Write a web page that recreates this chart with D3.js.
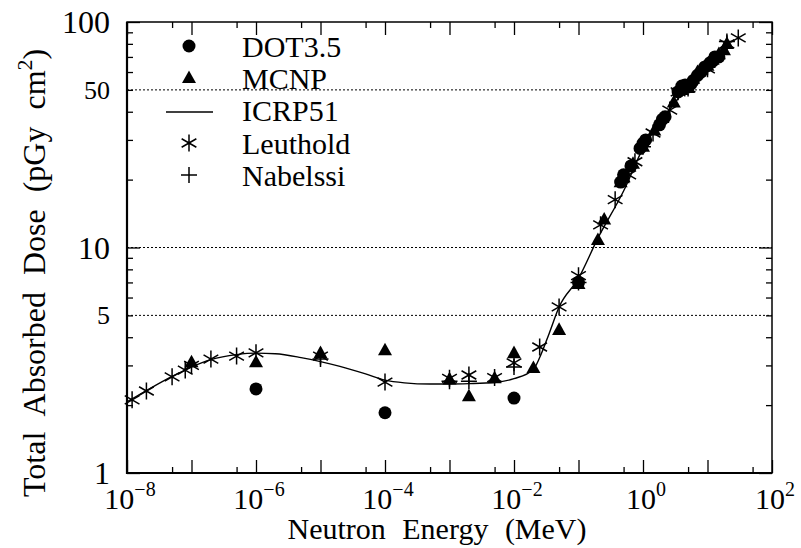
<!DOCTYPE html>
<html><head><meta charset="utf-8">
<script src="https://cdn.jsdelivr.net/npm/d3@7"></script>
</head><body style="margin:0"><svg id="c" width="801" height="548" font-family="Liberation Serif, monospace"></svg>
<script>
// ---------- data ----------
const xMajorTicks = [1e-8,1e-7,1e-6,1e-5,1e-4,1e-3,1e-2,1e-1,1,10,100];
const xMinorTicks = [5e-8,5e-7,5e-6,5e-5,5e-4,5e-3,5e-2,5e-1,5,50];
const xLabelValues = [1e-8,1e-6,1e-4,1e-2,1,100];
const xLabelExps = ["\u22128","\u22126","\u22124","\u22122","0","2"];
const yMajorTicks = [1,10,100];
const yMinorTicks = [2,3,4,5,6,7,8,9,20,30,40,50,60,70,80,90];
const yLabelValues = [1,5,10,50,100];
const yLabelTexts = ["1","5","10","50","100"];
const yLabelBig = [true,false,true,false,true];
const gridValues = [5,10,50];

const seriesNames = ["DOT3.5","MCNP","ICRP51","Leuthold","Nabelssi"];

// ICRP51 (line)
const icrpE = [1e-8,2e-8,5e-8,1e-7,2e-7,5e-7,1e-6,2e-6,5e-6,1e-5,2e-5,5e-5,1e-4,2e-4,5e-4,1e-3,2e-3,5e-3,1e-2,2e-2,2.5e-2,3.5e-2,5e-2,0.1,0.2,0.5,1,2,5,10,20];
const icrpD = [2.07,2.32,2.68,2.95,3.18,3.35,3.40,3.38,3.25,3.12,2.97,2.75,2.58,2.51,2.48,2.48,2.49,2.52,2.62,2.88,3.25,4.15,5.45,7.3,11.0,17.8,27.5,37,51.5,62,78];

// DOT3.5 (filled circles)
const dotE = [1e-6,1e-4,1e-2,0.1,0.45,0.5,0.65,0.9,1.0,1.1,1.8,2.0,2.2,3.5,4.0,4.5,5.0,5.5,6.0,7,8,9,10,11,12,13,15];
const dotD = [2.36,1.85,2.15,7.0,19.5,21,23,27.5,29,30,35,37,38,49,52,52.5,51.5,53,55,58,60,63,64,66,67,70,70];

// MCNP (filled triangles)
const mcnpE = [1e-7,1e-6,1e-5,1e-4,1e-3,2e-3,5e-3,1e-2,2e-2,5e-2,0.1,0.2,0.25,0.45,0.5,0.7,1,1.5,2,3,4,5,6,7,8,10,12,15,18,20];
const mcnpD = [3.1,3.1,3.4,3.5,2.6,2.19,2.63,3.4,2.92,4.31,6.9,10.8,13.3,19.5,20.5,23.5,28,33,37.5,44,50,51,56,60,62,64,68,72,75,80];

// Leuthold (asterisks)
const leutE = [1.2e-8,2e-8,5e-8,8e-8,1e-7,2e-7,5e-7,1e-6,1e-5,1e-4,1e-3,2e-3,5e-3,1e-2,2.5e-2,5e-2,0.1,0.22,0.37,0.6,0.75,1.43,2.6,3.5,5,10,20,30];
const leutD = [2.11,2.31,2.67,2.86,3.0,3.2,3.3,3.41,3.3,2.53,2.63,2.72,2.65,3.08,3.62,5.45,7.5,12.6,16.3,21,24,32.2,40.7,49,51,62,80,85];

// Nabelssi (plus)
const nabE = [1e-5,1e-3,2e-3,1e-2,0.1,1,10,20];
const nabD = [3.2,2.55,2.55,2.95,7.0,28,63,82];

// ---------- chart ----------
const FONT = "'Liberation Serif', monospace";
const svg = d3.select("#c");
const x = d3.scaleLog().domain([1e-8,100]).range([127,772]);
const y = d3.scaleLog().domain([1,100]).range([473,22]);

// grid lines
svg.append("g").selectAll("line").data(gridValues).join("line")
  .attr("x1",x.range()[0]).attr("x2",x.range()[1])
  .attr("y1",d=>y(d)).attr("y2",d=>y(d))
  .attr("stroke","#000").attr("stroke-width",1).attr("stroke-dasharray","2,2");

// axes ticks via d3.axis (inward ticks)
function addAxis(axisFn, scale, vals, size, transform){
  const g = svg.append("g").attr("transform",transform)
    .call(axisFn(scale).tickValues(vals).tickSize(size).tickFormat(""));
  g.select(".domain").remove();
  g.attr("font-family",null);
  g.selectAll(".tick line").attr("stroke","#000").attr("stroke-width",1.3);
  return g;
}
addAxis(d3.axisBottom, x, xMajorTicks, -13, "translate(0,473)");
addAxis(d3.axisBottom, x, xMinorTicks, -6, "translate(0,473)");
addAxis(d3.axisTop, x, xMajorTicks, -13, "translate(0,22)");
addAxis(d3.axisTop, x, xMinorTicks, -6, "translate(0,22)");
addAxis(d3.axisLeft, y, yMajorTicks, -13, "translate(127,0)");
addAxis(d3.axisLeft, y, yMinorTicks, -6, "translate(127,0)");
addAxis(d3.axisRight, y, yMajorTicks, -13, "translate(772,0)");
addAxis(d3.axisRight, y, yMinorTicks, -6, "translate(772,0)");

// frame
svg.append("rect").attr("x",127).attr("y",22).attr("width",772-127).attr("height",473-22)
  .attr("fill","none").attr("stroke","#000").attr("stroke-width",1.5);
svg.append("line").attr("x1",127).attr("x2",127).attr("y1",22).attr("y2",474).attr("stroke","#000").attr("stroke-width",2.2);
svg.append("line").attr("x1",126).attr("x2",772).attr("y1",473).attr("y2",473).attr("stroke","#000").attr("stroke-width",2.2);

// y labels
svg.selectAll("text.ylab").data(yLabelValues).join("text").attr("class","ylab")
  .style("font-family",FONT)
  .attr("x",110).attr("y",d=>y(d))
  .attr("dy","0.35em")
  .attr("text-anchor","end")
  .attr("font-size",(d,i)=>yLabelBig[i]?32:26)
  .text((d,i)=>yLabelTexts[i]);

// x labels with superscripts
const xl = svg.selectAll("text.xlab").data(xLabelValues).join("text").attr("class","xlab")
  .style("font-family",FONT)
  .attr("x",d=>x(d)+3).attr("y",509).attr("text-anchor","middle").attr("font-size",30);
xl.append("tspan").text("10");
xl.append("tspan").attr("dy",-13).attr("font-size",20).text((d,i)=>xLabelExps[i]);

// axis titles
svg.append("text").style("font-family",FONT).attr("x",437).attr("y",539).attr("text-anchor","middle")
  .attr("font-size",30).attr("word-spacing",9).text("Neutron Energy (MeV)");
const yt = svg.append("text").style("font-family",FONT).attr("transform","translate(45,497) rotate(-90)")
  .attr("text-anchor","start").attr("font-size",32).attr("word-spacing",9);
yt.append("tspan").text("Total Absorbed Dose (pGy cm");
yt.append("tspan").attr("dy",-13).attr("font-size",22).text("2");
yt.append("tspan").attr("dy",13).text(")");

// ICRP line
const line = d3.line().x((d)=>x(d[0])).y(d=>y(d[1])).curve(d3.curveMonotoneX);
svg.append("path").datum(icrpE.map((e,i)=>[e,icrpD[i]]))
  .attr("d",line).attr("fill","none").attr("stroke","#000").attr("stroke-width",1.4);

// marker generators
function triPath(s){const h=s*0.9;return `M0,${-h*0.6}L${s/2},${h*0.4}L${-s/2},${h*0.4}Z`;}
function starPath(r){const t=r/2,u=t*Math.sqrt(3);return `M0,${-r}L0,${r}M${-u},${-t}L${u},${t}M${-u},${t}L${u},${-t}`;}
function plusPath(r){return `M${-r},0L${r},0M0,${-r}L0,${r}`;}

svg.append("g").selectAll("circle").data(dotE.map((e,i)=>[e,dotD[i]])).join("circle")
  .attr("cx",d=>x(d[0])).attr("cy",d=>y(d[1])).attr("r",6.5).attr("fill","#000");
svg.append("g").selectAll("path").data(mcnpE.map((e,i)=>[e,mcnpD[i]])).join("path")
  .attr("transform",d=>`translate(${x(d[0])},${y(d[1])})`).attr("d",triPath(14)).attr("fill","#000");
svg.append("g").selectAll("path").data(leutE.map((e,i)=>[e,leutD[i]])).join("path")
  .attr("transform",d=>`translate(${x(d[0])},${y(d[1])})`).attr("d",starPath(8.5))
  .attr("fill","none").attr("stroke","#000").attr("stroke-width",1.5);
svg.append("g").selectAll("path").data(nabE.map((e,i)=>[e,nabD[i]])).join("path")
  .attr("transform",d=>`translate(${x(d[0])},${y(d[1])})`).attr("d",plusPath(8))
  .attr("fill","none").attr("stroke","#000").attr("stroke-width",1.5);

// legend
const legY = [46,78,110,143,175];
svg.selectAll("text.leg").data(seriesNames).join("text").attr("class","leg")
  .style("font-family",FONT)
  .attr("x",242).attr("y",(d,i)=>legY[i]).attr("dy","0.35em").attr("font-size",30).text(d=>d);
const lg = svg.append("g");
lg.append("circle").attr("cx",189).attr("cy",legY[0]).attr("r",6.5).attr("fill","#000");
lg.append("path").attr("transform",`translate(189,${legY[1]})`).attr("d",triPath(14)).attr("fill","#000");
lg.append("line").attr("x1",166).attr("x2",213).attr("y1",legY[2]+2).attr("y2",legY[2]+2).attr("stroke","#000").attr("stroke-width",1.4);
lg.append("path").attr("transform",`translate(189,${legY[3]})`).attr("d",starPath(8.5)).attr("fill","none").attr("stroke","#000").attr("stroke-width",1.5);
lg.append("path").attr("transform",`translate(189,${legY[4]})`).attr("d",plusPath(8)).attr("fill","none").attr("stroke","#000").attr("stroke-width",1.5);
</script></body></html>
